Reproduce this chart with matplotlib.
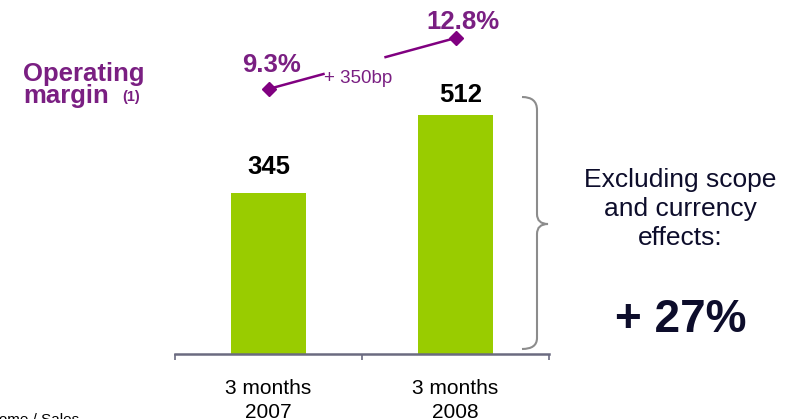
import matplotlib
matplotlib.use("Agg")
import matplotlib.pyplot as plt
from matplotlib.path import Path
from matplotlib.patches import PathPatch

plt.rcParams['font.family'] = ['Liberation Sans', 'DejaVu Sans']

# ---- data ----
categories = ["3 months\n2007", "3 months\n2008"]
income = [345, 512]
margin = [9.3, 12.8]
margin_labels = ["9.3%", "12.8%"]
change_label = "+ 350bp"
side_text = ["Excluding scope", "and currency", "effects:"]
side_value = "+ 27%"
footnote = "(1) Operating income / Sales"

W, H = 787, 419
fig = plt.figure(figsize=(W / 100, H / 100), dpi=100)

def fx(px):
    return px / W

def fy(py):
    return 1 - py / H

PURPLE = "#7a1f82"
MARK = "#800080"
GREEN = "#99cc00"
NAVY = "#0d0d2b"
AXC = "#6b6b80"

# main axes (bars)
ax = fig.add_axes([fx(175), fy(354), fx(549) - fx(175), fy(0) - fy(354)])
x = list(range(len(categories)))
ax.bar(x, income, width=0.406, color=GREEN, zorder=2)
ax.set_xlim(-0.5, 1.5)
ax.set_ylim(0, 757)
for s in ["top", "left", "right"]:
    ax.spines[s].set_visible(False)
ax.spines["bottom"].set_color(AXC)
ax.spines["bottom"].set_linewidth(1.8)
ax.set_yticks([])
ax.set_xticks([-0.5, 0.5, 1.5])
ax.set_xticklabels([])
ax.tick_params(axis="x", which="major", direction="out", length=4, width=1.2, color=AXC)
ax.set_xticks(x, minor=True)
ax.set_xticklabels(categories, minor=True, fontsize=15, linespacing=1.32)
ax.tick_params(axis="x", which="minor", length=0, pad=18)
label_offsets = [(0, 19), (5, 13)]
for i, v in enumerate(income):
    ax.annotate(str(v), (x[i], v), xytext=label_offsets[i], textcoords="offset pixels",
                ha="center", va="baseline", fontsize=18.5, fontweight="bold", color="black")

# margin axes
ax2 = fig.add_axes(ax.get_position(), frameon=False)
ax2.set_xlim(-0.5, 1.5)
ax2.set_ylim(-8.89, 15.41)
ax2.set_xticks([])
ax2.set_yticks([])
ax2.plot(x, margin, linestyle="none", marker="D", markersize=7, color=MARK, zorder=3)
d = margin[1] - margin[0]
f1, f2 = 0.294, 0.626
ax2.plot([x[0], x[0] + f1], [margin[0], margin[0] + f1 * d], color=MARK, lw=1.8)
ax2.plot([x[0] + f2, x[1]], [margin[0] + f2 * d, margin[1]], color=MARK, lw=1.8)
ax2.annotate(margin_labels[0], (x[0], margin[0]), xytext=(3, 17), textcoords="offset pixels",
             ha="center", va="baseline", fontsize=18.5, fontweight="bold", color=PURPLE)
ax2.annotate(margin_labels[1], (x[1], margin[1]), xytext=(7, 9), textcoords="offset pixels",
             ha="center", va="baseline", fontsize=18.5, fontweight="bold", color=PURPLE)
ax2.annotate(change_label, (x[0] + f1, margin[0] + f1 * d), xytext=(1, -9), textcoords="offset pixels",
             ha="left", va="baseline", fontsize=13.5, color=PURPLE)

# left label
fig.text(fx(23), fy(81), "Operating", ha="left", va="baseline", fontsize=18.5,
         fontweight="bold", color=PURPLE)
fig.text(fx(23), fy(103), "margin", ha="left", va="baseline", fontsize=18.5,
         fontweight="bold", color=PURPLE)
fig.text(fx(122), fy(101), "(1)", ha="left", va="baseline", fontsize=10.5,
         fontweight="bold", color=PURPLE)

# right text
for t, b in zip(side_text, [187, 216, 245]):
    fig.text(fx(680), fy(b), t, ha="center", va="baseline", fontsize=19, color=NAVY)
fig.text(fx(681), fy(332), side_value, ha="center", va="baseline", fontsize=33,
         fontweight="bold", color=NAVY)

# footnote (cut off)
fig.text(fx(79), fy(413), footnote, ha="right", va="top", fontsize=11, color="black")

# brace
ov = fig.add_axes([0, 0, 1, 1], frameon=False)
ov.set_xlim(0, W)
ov.set_ylim(H, 0)
ov.set_xticks([])
ov.set_yticks([])
verts = [(522, 97), (537, 97), (537, 110), (537, 214), (537, 224), (548, 224),
         (537, 224), (537, 234), (537, 338), (537, 349), (522, 349)]
codes = [Path.MOVETO, Path.CURVE3, Path.CURVE3, Path.LINETO, Path.CURVE3, Path.CURVE3,
         Path.CURVE3, Path.CURVE3, Path.LINETO, Path.CURVE3, Path.CURVE3]
ov.add_patch(PathPatch(Path(verts, codes), fill=False, edgecolor="#8c8c8c", lw=1.5))

fig.savefig("out.png", dpi=100)
